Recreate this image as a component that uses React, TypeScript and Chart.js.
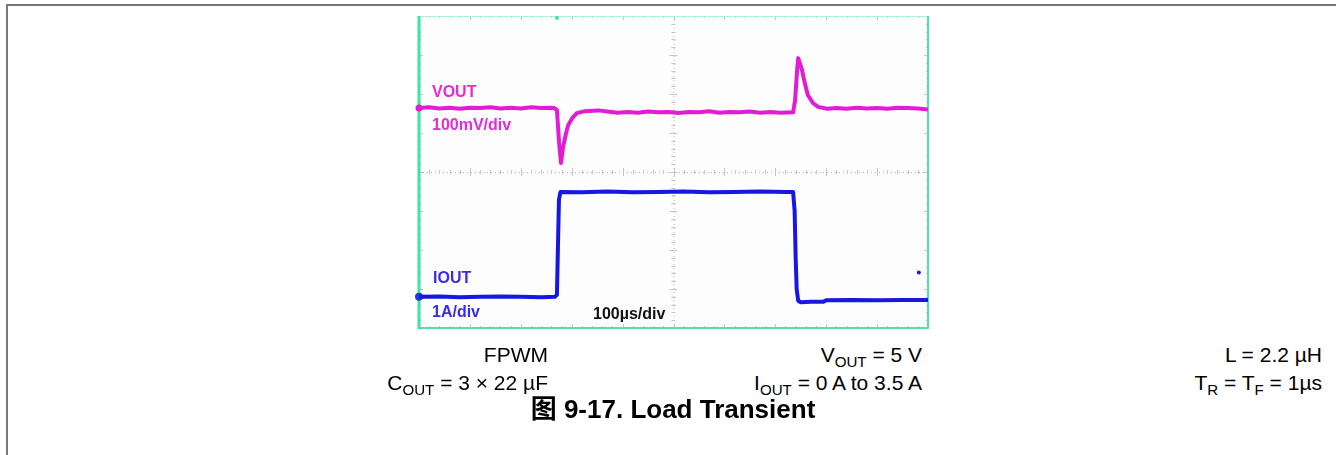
import React, { useEffect, useRef } from 'react';
import { Chart, registerables } from 'chart.js';

Chart.register(...registerables);

// ---- Data (time in µs, 100 µs/div, 10 divisions) ----
const TIME_MIN = 0;
const TIME_MAX = 1000;
const DIVS_Y = 8;

// VOUT: deviation in mV (100 mV/div), channel marker offset in divisions from bottom
const VOUT_MV_PER_DIV = 100;
const VOUT_OFFSET_DIV = 5.64;
const voutTime = [0, 20, 40, 60, 80, 100, 120, 140, 160, 180, 200, 220, 240, 258, 266, 271, 275, 279, 283, 289, 293, 301, 310, 326, 352, 370, 390, 410, 430, 450, 470, 490, 510, 530, 550, 570, 590, 610, 630, 650, 670, 690, 710, 735, 739, 743, 745, 749, 752, 758, 764, 774, 784, 802, 820, 840, 860, 880, 900, 920, 940, 960, 980, 1000];
const voutMv = [0, 2, -1, 1, -2, 1, 0, 2, -1, 1, -1, 2, 0, 1, 0, -5, -85, -141, -100, -64, -44, -26, -13, -8, -6, -9, -12, -10, -12, -9, -11, -10, -13, -10, -11, -8, -12, -10, -11, -9, -12, -10, -12, -11, 21, 100, 128, 112, 100, 64, 33, 13, 3, -2, 0, -2, 1, -1, 0, -2, 1, 0, -1, -4];

// IOUT: current in A (1 A/div)
const IOUT_A_PER_DIV = 1;
const IOUT_OFFSET_DIV = 0.8;
const ioutTime = [0, 40, 80, 120, 160, 200, 240, 267, 271, 273, 275, 278, 320, 370, 420, 470, 520, 570, 620, 670, 720, 735, 738, 740, 742, 745, 750, 770, 794, 800, 850, 900, 950, 1000];
const ioutA = [0, 0.01, -0.01, 0, 0.01, 0, -0.01, 0, 0.05, 1.3, 2.5, 2.69, 2.68, 2.7, 2.68, 2.69, 2.7, 2.68, 2.69, 2.7, 2.69, 2.69, 2.2, 1.0, 0.2, -0.1, -0.14, -0.13, -0.13, -0.09, -0.08, -0.09, -0.08, -0.08];

// trigger level marker on the IOUT channel
const triggerTime = [982];
const triggerA = [0.62];
// trigger position marker (top edge)
const triggerPosTime = 271;

const VOUT_COLOR = '#e21cd4';
const IOUT_COLOR = '#1717e3';
const FONT = '"Liberation Sans", Arial, Helvetica, sans-serif';

const scopePlugin = {
  id: 'scope',
  beforeDatasetsDraw(chart: any) {
    const { ctx, chartArea: a, scales } = chart;
    const x = scales.x;
    const yV = scales.yV;
    ctx.save();
    ctx.fillStyle = '#fdfdfd';
    ctx.fillRect(a.left, a.top, a.right - a.left, a.bottom - a.top);
    const cx = x.getPixelForValue((TIME_MIN + TIME_MAX) / 2);
    const divMv = VOUT_MV_PER_DIV;
    const yMinV = -VOUT_OFFSET_DIV * divMv;
    const cy = yV.getPixelForValue(yMinV + (DIVS_Y / 2) * divMv);
    ctx.strokeStyle = '#b5b5b5';
    ctx.lineWidth = 1;
    ctx.setLineDash([1, 3]);
    ctx.beginPath();
    ctx.moveTo(cx + 0.5, a.top);
    ctx.lineTo(cx + 0.5, a.bottom);
    ctx.moveTo(a.left, cy + 0.5);
    ctx.lineTo(a.right, cy + 0.5);
    ctx.stroke();
    ctx.setLineDash([]);
    ctx.strokeStyle = '#c4c4c4';
    ctx.beginPath();
    const tStep = (TIME_MAX - TIME_MIN) / 50;
    for (let i = 1; i < 50; i++) {
      const px = Math.round(x.getPixelForValue(TIME_MIN + i * tStep)) + 0.5;
      const len = i % 5 === 0 ? 4 : 2;
      ctx.moveTo(px, a.top); ctx.lineTo(px, a.top + len);
      ctx.moveTo(px, a.bottom); ctx.lineTo(px, a.bottom - len);
      ctx.moveTo(px, cy - len); ctx.lineTo(px, cy + len);
    }
    for (let i = 1; i < DIVS_Y * 5; i++) {
      const py = Math.round(yV.getPixelForValue(yMinV + (i * divMv) / 5)) + 0.5;
      const len = i % 5 === 0 ? 4 : 2;
      ctx.moveTo(a.left, py); ctx.lineTo(a.left + len, py);
      ctx.moveTo(a.right, py); ctx.lineTo(a.right - len, py);
      ctx.moveTo(cx - len, py); ctx.lineTo(cx + len, py);
    }
    ctx.stroke();
    ctx.strokeStyle = '#aef0d2';
    ctx.lineWidth = 1;
    ctx.beginPath();
    ctx.moveTo(a.left, a.top + 0.5); ctx.lineTo(a.right, a.top + 0.5);
    ctx.stroke();
    ctx.strokeStyle = '#52e2a6';
    ctx.lineWidth = 2;
    ctx.beginPath();
    ctx.moveTo(a.right, a.top); ctx.lineTo(a.right, a.bottom);
    ctx.lineTo(a.left, a.bottom);
    ctx.stroke();
    ctx.lineWidth = 3;
    ctx.strokeStyle = '#3fe39f';
    ctx.beginPath();
    ctx.moveTo(a.left, a.top); ctx.lineTo(a.left, a.bottom + 1);
    ctx.stroke();
    ctx.fillStyle = '#3fe39f';
    ctx.beginPath();
    ctx.arc(x.getPixelForValue(triggerPosTime), a.top + 2, 2, 0, Math.PI * 2);
    ctx.fill();
    ctx.restore();
  },
};

function Label(props: { x: number; base: number; size: number; color: string; bold?: boolean; children: any; right?: boolean }) {
  const { x, base, size, color, bold, children, right } = props;
  const style: any = {
    position: 'absolute',
    top: base - 0.8465 * size,
    fontSize: size,
    lineHeight: `${size}px`,
    color,
    fontWeight: bold ? 'bold' : 'normal',
    whiteSpace: 'nowrap',
    fontFamily: FONT,
  };
  if (right) {
    style.right = 1336 - x;
    style.textAlign = 'right';
  } else {
    style.left = x;
  }
  return <div style={style}>{children}</div>;
}

const Sub = ({ children }: { children: any }) => (
  <span style={{ fontSize: '0.72em', position: 'relative', top: '0.3em' }}>{children}</span>
);

export default function App() {
  const ref = useRef<HTMLCanvasElement>(null);
  useEffect(() => {
    if (!ref.current) return;
    const vMin = -VOUT_OFFSET_DIV * VOUT_MV_PER_DIV;
    const vMax = (DIVS_Y - VOUT_OFFSET_DIV) * VOUT_MV_PER_DIV;
    const iMin = -IOUT_OFFSET_DIV * IOUT_A_PER_DIV;
    const iMax = (DIVS_Y - IOUT_OFFSET_DIV) * IOUT_A_PER_DIV;
    const chart = new Chart(ref.current, {
      type: 'line',
      data: {
        datasets: [
          {
            label: 'VOUT',
            data: voutTime.map((t, i) => ({ x: t, y: voutMv[i] })),
            yAxisID: 'yV',
            borderColor: VOUT_COLOR,
            borderWidth: 4,
            borderJoinStyle: 'round',
            pointRadius: 0,
            tension: 0,
          },
          {
            label: 'IOUT',
            data: ioutTime.map((t, i) => ({ x: t, y: ioutA[i] })),
            yAxisID: 'yI',
            borderColor: IOUT_COLOR,
            borderWidth: 4,
            borderJoinStyle: 'round',
            pointRadius: 0,
            tension: 0,
          },
          {
            label: 'VOUT marker',
            data: [{ x: TIME_MIN, y: 0 }],
            yAxisID: 'yV',
            showLine: false,
            pointRadius: 3.5,
            pointBackgroundColor: VOUT_COLOR,
            pointBorderWidth: 0,
            clip: false,
          } as any,
          {
            label: 'IOUT marker',
            data: [{ x: TIME_MIN, y: 0 }],
            yAxisID: 'yI',
            showLine: false,
            pointRadius: 4,
            pointBackgroundColor: '#1d3fd6',
            pointBorderWidth: 0,
            clip: false,
          } as any,
          {
            label: 'Trigger level',
            data: triggerTime.map((t, i) => ({ x: t, y: triggerA[i] })),
            yAxisID: 'yI',
            showLine: false,
            pointRadius: 2,
            pointBackgroundColor: IOUT_COLOR,
            pointBorderWidth: 0,
          },
        ],
      },
      options: {
        animation: false,
        responsive: false,
        devicePixelRatio: 1,
        layout: { padding: 10 },
        plugins: { legend: { display: false }, tooltip: { enabled: false } },
        scales: {
          x: { type: 'linear', min: TIME_MIN, max: TIME_MAX, display: false },
          yV: { type: 'linear', min: vMin, max: vMax, display: false },
          yI: { type: 'linear', min: iMin, max: iMax, display: false },
        },
      },
      plugins: [scopePlugin],
    });
    return () => chart.destroy();
  }, []);

  return (
    <div style={{ position: 'absolute', left: 0, top: 0, width: 1336, height: 455, overflow: 'hidden', background: '#fff', fontFamily: FONT }}>
      <div style={{ position: 'absolute', left: 6, top: 4, width: 1400, height: 500, borderTop: '2px solid #787878', borderLeft: '2px solid #787878' }} />
      <canvas ref={ref} width={529} height={332} style={{ position: 'absolute', left: 409, top: 6, width: 529, height: 332 }} />
      <Label x={432} base={98} size={16} color="#e52ad8" bold>VOUT</Label>
      <Label x={432} base={131} size={16} color="#e52ad8" bold>100mV/div</Label>
      <Label x={433} base={284} size={16} color="#3a2ce4" bold>IOUT</Label>
      <Label x={432} base={318} size={16} color="#3a2ce4" bold>1A/div</Label>
      <Label x={593} base={320} size={16} color="#111" bold>100µs/div</Label>

      <Label x={548} base={362} size={21} color="#000" right>FPWM</Label>
      <Label x={548} base={390} size={21} color="#000" right>C<Sub>OUT</Sub> = 3 × 22 µF</Label>
      <Label x={922} base={362} size={21} color="#000" right>V<Sub>OUT</Sub> = 5 V</Label>
      <Label x={922} base={390} size={21} color="#000" right>I<Sub>OUT</Sub> = 0 A to 3.5 A</Label>
      <Label x={1322} base={362} size={21} color="#000" right>L = 2.2 µH</Label>
      <Label x={1322} base={390} size={21} color="#000" right>T<Sub>R</Sub> = T<Sub>F</Sub> = 1µs</Label>
      <div style={{ position: 'absolute', left: 0, width: 1346, top: 418 - 0.8465 * 26, fontSize: 26, lineHeight: '26px', fontWeight: 'bold', textAlign: 'center', whiteSpace: 'nowrap', fontFamily: '"Liberation Sans", Arial, "Noto Sans CJK SC", sans-serif' }}>
        图 9-17. Load Transient
      </div>
    </div>
  );
}
